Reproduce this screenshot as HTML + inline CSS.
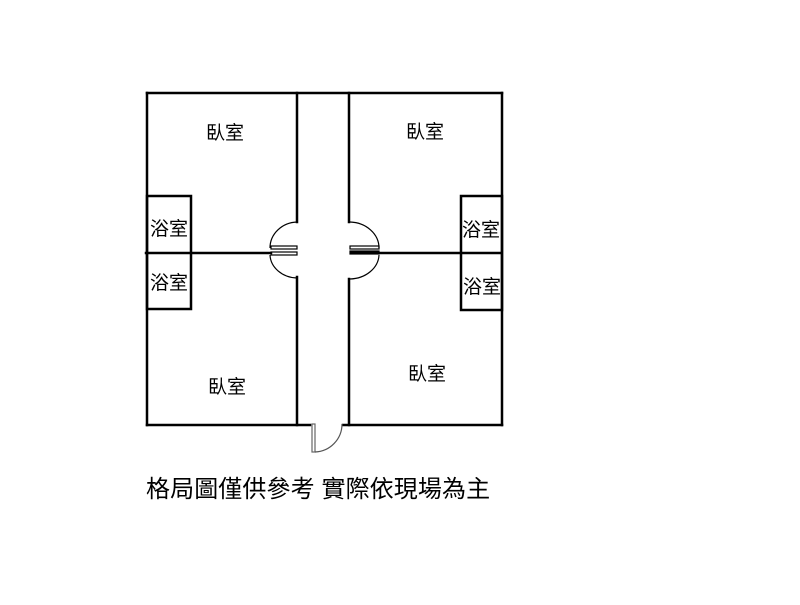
<!DOCTYPE html>
<html><head><meta charset="utf-8"><style>
body{margin:0;background:#fff;width:800px;height:600px;overflow:hidden}
svg text{font-family:"Liberation Sans","Noto Sans CJK TC",sans-serif;fill:#000}
</style></head><body>
<svg width="800" height="600" viewBox="0 0 800 600" xmlns="http://www.w3.org/2000/svg">
<g stroke="#000" stroke-width="2.5" fill="none" stroke-linecap="square">
<line x1="147" y1="93" x2="502" y2="93"/>
<line x1="147" y1="93" x2="147" y2="425"/>
<line x1="502" y1="93" x2="502" y2="425"/>
<line x1="147" y1="425" x2="310" y2="425"/>
<line x1="343" y1="425" x2="502" y2="425"/>
<line x1="297" y1="93" x2="297" y2="222"/>
<line x1="297" y1="277" x2="297" y2="425"/>
<line x1="349" y1="93" x2="349" y2="222"/>
<line x1="349" y1="279" x2="349" y2="425"/>
<line x1="146" y1="253" x2="271" y2="253"/>
<line x1="379" y1="253" x2="500" y2="253"/>
<rect x="147" y="196" width="44" height="113"/>
<rect x="461" y="196" width="41" height="114"/>
</g>
<g stroke="#000" stroke-width="1.2" fill="none">
<path d="M297 222 A28 26 0 0 0 270 248"/>
<path d="M270 255 A28 24 0 0 0 297 278"/>
<path d="M350 222 A30 26 0 0 1 379 248"/>
<path d="M379 255 A30 25 0 0 1 350 279"/>
<rect x="271" y="246" width="26" height="3"/>
<rect x="271" y="252" width="26" height="3"/>
<rect x="350" y="246" width="29" height="3"/>
<rect x="350" y="251" width="29" height="3" fill="#000"/>
<rect x="312" y="424" width="3" height="28" stroke="#666"/>
<path d="M315 452 A28 28 0 0 0 342 424" stroke="#555"/>
</g>
<g font-size="19" text-anchor="middle">
<text x="225" y="139">臥室</text>
<text x="425" y="138">臥室</text>
<text x="227" y="393">臥室</text>
<text x="427" y="380">臥室</text>
<text x="169" y="235">浴室</text>
<text x="169" y="289">浴室</text>
<text x="481" y="236">浴室</text>
<text x="482" y="293">浴室</text>
</g>
<text x="146" y="497" font-size="24" letter-spacing="0.1">格局圖僅供參考 實際依現場為主</text>
</svg>
</body></html>
